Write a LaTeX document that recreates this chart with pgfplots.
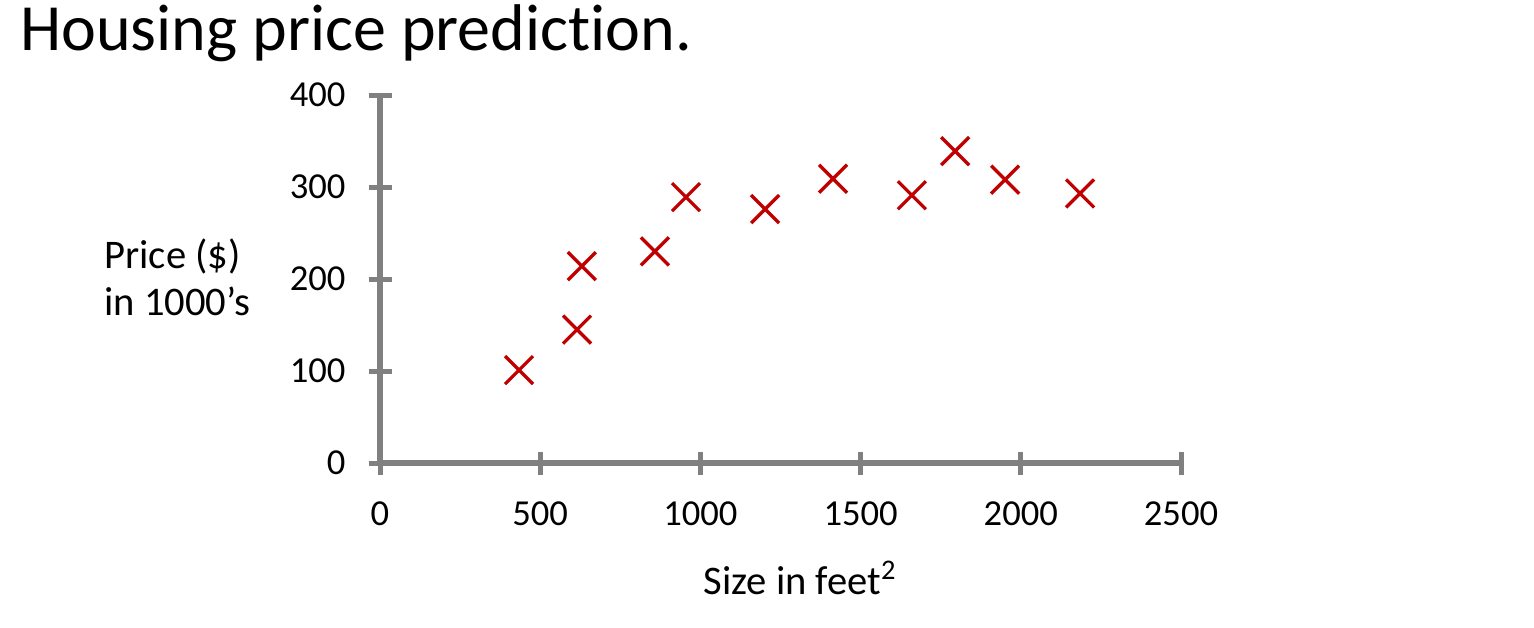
\documentclass[border=0pt]{standalone}
\usepackage{pgfplots}
\pgfplotsset{compat=1.18}
\usepackage{fontspec}
\setmainfont{Carlito}[Ligatures={NoCommon,NoRare,NoDiscretionary}]
\definecolor{axgray}{HTML}{808080}
\definecolor{xred}{HTML}{C00000}
\begin{document}
\begin{tikzpicture}
\path[use as bounding box] (0,0) rectangle (767pt,313.5pt);
\node[anchor=base west, font=\fontsize{33}{36}\selectfont, inner sep=0pt] at (10pt,288pt) {Housing price prediction.};
\begin{axis}[
  at={(190pt,82pt)}, anchor=south west,
  scale only axis, width=400.5pt, height=184pt,
  xmin=0, xmax=2500, ymin=0, ymax=400,
  axis lines=left,
  axis line style={-, line width=3.4pt, color=axgray},
  xtick={0,500,...,2500}, ytick={0,100,...,400},
  tick align=center, major tick length=11.5pt,
  tick style={line width=2.5pt, color=axgray},
  /pgf/number format/assume math mode=true,
  /pgf/number format/set thousands separator={},
  tick label style={font=\fontsize{18.3}{20}\selectfont, text=black},
  xticklabel style={yshift=-10pt},
  yticklabel style={xshift=-8pt},
  clip=false,
]
\addplot[only marks, mark=x, mark size=9.9pt, mark options={line width=1.65pt, color=xred}] coordinates {
(434,101) (615,145) (630,214) (858,230) (955,289) (1202,276) (1414,309) (1660,291) (1795,339) (1951,308) (2185,293)
};
\end{axis}
\node[anchor=west, align=left, font=\fontsize{20.3}{23.5}\selectfont, inner sep=0pt] at (52pt,175pt) {Price (\$)\\in 1000’s};
\node[font=\fontsize{20.3}{22}\selectfont, inner sep=0pt] at (400pt,24.5pt) {Size in feet\textsuperscript{2}};
\end{tikzpicture}
\end{document}
